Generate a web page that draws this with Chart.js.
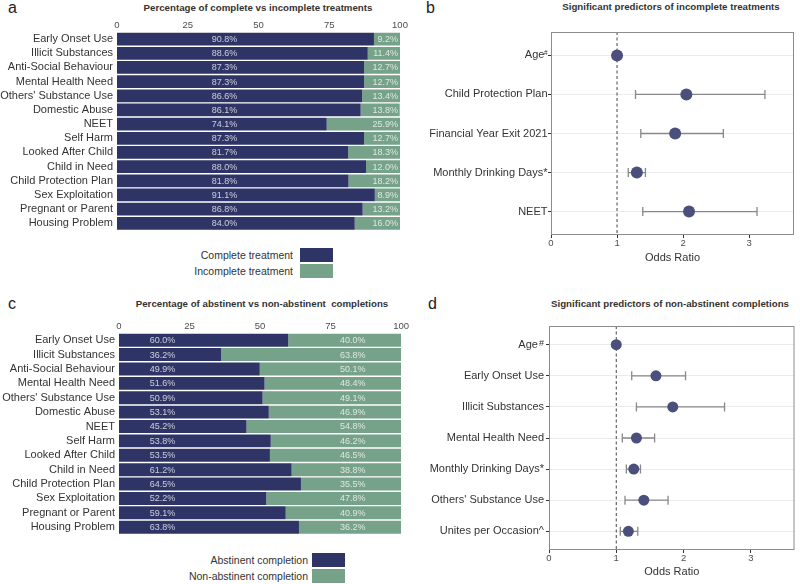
<!DOCTYPE html>
<html>
<head>
<meta charset="utf-8">
<script src="https://cdn.jsdelivr.net/npm/chart.js@4/dist/chart.umd.min.js"></script>
<style>
  body { margin: 0; background: #fff; font-family: "Liberation Sans", Arial, sans-serif; }
  #wrap { position: relative; width: 800px; height: 584px; overflow: hidden; }
  canvas { position: absolute; }
  .letter { position: absolute; font-size: 16px; line-height: 16px; color: #222; }
  .title { position: absolute; width: 300px; font-size: 9.7px; font-weight: bold; line-height: 10px; color: #333; text-align: center; white-space: nowrap; }
  .legend { position: absolute; display: flex; flex-direction: column; align-items: flex-end; gap: 2px; font-size: 10.5px; color: #333; }
  .legend .item { display: flex; align-items: center; height: 14px; }
  .legend .box { width: 33px; height: 14px; }
</style>
</head>
<body>
<div id="wrap">
  <div class="letter" style="left:8px; top:0px;">a</div>
  <div class="letter" style="left:426px; top:0px;">b</div>
  <div class="letter" style="left:8px; top:296px;">c</div>
  <div class="letter" style="left:428px; top:296px;">d</div>

  <div class="title" style="left:108px; top:3px;">Percentage of complete vs incomplete treatments</div>
  <div class="title" style="left:521px; top:2px;">Significant predictors of incomplete treatments</div>
  <div class="title" style="left:112px; top:299px;">Percentage of abstinent vs non-abstinent&nbsp; completions</div>
  <div class="title" style="left:520px; top:299px;">Significant predictors of non-abstinent completions</div>

  <canvas id="chartA" width="410" height="241" style="left:0; top:0;"></canvas>
  <canvas id="chartB" width="390" height="270" style="left:410px; top:0;"></canvas>
  <canvas id="chartC" width="410" height="255" style="left:0; top:290px;"></canvas>
  <canvas id="chartD" width="390" height="294" style="left:410px; top:290px;"></canvas>

  <div class="legend" id="legendA" style="left:0; top:248px; width:333px;"></div>
  <div class="legend" id="legendC" style="left:0; top:553px; width:345px;"></div>
</div>

<script>
const NAVY = "#2e3466";
const GREEN = "#77a28a";
const POINT = "#4b4f7b";
const FONT = '"Liberation Sans", Arial, sans-serif';

// panels a and c
const riskFactors = ["Early Onset Use", "Illicit Substances", "Anti-Social Behaviour", "Mental Health Need",
  "Others' Substance Use", "Domestic Abuse", "NEET", "Self Harm", "Looked After Child", "Child in Need",
  "Child Protection Plan", "Sex Exploitation", "Pregnant or Parent", "Housing Problem"];
const completePct = [90.8, 88.6, 87.3, 87.3, 86.6, 86.1, 74.1, 87.3, 81.7, 88.0, 81.8, 91.1, 86.8, 84.0];
const incompletePct = [9.2, 11.4, 12.7, 12.7, 13.4, 13.8, 25.9, 12.7, 18.3, 12.0, 18.2, 8.9, 13.2, 16.0];
const abstinentPct = [60.0, 36.2, 49.9, 51.6, 50.9, 53.1, 45.2, 53.8, 53.5, 61.2, 64.5, 52.2, 59.1, 63.8];
const nonAbstinentPct = [40.0, 63.8, 50.1, 48.4, 49.1, 46.9, 54.8, 46.2, 46.5, 38.8, 35.5, 47.8, 40.9, 36.2];
const pctTicks = [0, 25, 50, 75, 100];

// panel b
const incPredictors = ["Age#", "Child Protection Plan", "Financial Year Exit 2021", "Monthly Drinking Days*", "NEET"];
const incOR = [1.00, 2.05, 1.88, 1.30, 2.09];
const incLow = [1.00, 1.28, 1.36, 1.17, 1.39];
const incHigh = [1.00, 3.24, 2.61, 1.43, 3.12];

// panel d
const nonAbsPredictors = ["Age#", "Early Onset Use", "Illicit Substances", "Mental Health Need",
  "Monthly Drinking Days*", "Others' Substance Use", "Unites per Occasion^"];
const nonAbsOR = [1.00, 1.59, 1.84, 1.30, 1.26, 1.41, 1.18];
const nonAbsLow = [1.00, 1.23, 1.30, 1.09, 1.15, 1.13, 1.06];
const nonAbsHigh = [1.00, 2.03, 2.61, 1.57, 1.36, 1.77, 1.32];
const oddsTicks = [0, 1, 2, 3];
const noEffect = 1;

// percentage labels written inside the stacked bars
const barText = {
  id: "barText",
  afterDatasetsDraw(chart, args, opts) {
    const ctx = chart.ctx;
    const x = chart.scales.x;
    ctx.save();
    ctx.font = "9px " + FONT;
    ctx.fillStyle = "rgba(255,255,255,0.75)";
    ctx.textBaseline = "middle";
    chart.data.datasets.forEach((ds, di) => {
      const spot = opts.spots[di];
      ctx.textAlign = spot.align;
      chart.getDatasetMeta(di).data.forEach((bar, i) => {
        ctx.fillText(ds.data[i].toFixed(1) + "%", x.getPixelForValue(spot.at), bar.y + 0.5);
      });
    });
    ctx.restore();
  }
};

function stackedBar(id, first, second, names, spots, gap, pad, axisH, axisW) {
  new Chart(document.getElementById(id), {
    type: "bar",
    data: {
      labels: riskFactors,
      datasets: [
        { label: names[0], data: first, backgroundColor: NAVY, barPercentage: 0.9, categoryPercentage: 1 },
        { label: names[1], data: second, backgroundColor: GREEN, barPercentage: 0.9, categoryPercentage: 1 }
      ]
    },
    options: {
      indexAxis: "y",
      responsive: false,
      animation: false,
      layout: { padding: pad },
      plugins: {
        legend: { display: false },
        tooltip: { enabled: false },
        barText: { spots: spots }
      },
      scales: {
        x: {
          stacked: true, position: "top", min: 0, max: 100,
          grid: { display: false, drawTicks: false }, border: { display: false },
          afterBuildTicks: s => { s.ticks = pctTicks.map(v => ({ value: v })); },
          ticks: { font: { size: 9.5, family: FONT }, color: "#4d4d4d", padding: 1, maxRotation: 0 },
          afterFit: s => { s.height = axisH; }
        },
        y: {
          stacked: true,
          grid: { display: false, drawTicks: false }, border: { display: false },
          ticks: { font: { size: 11, family: FONT }, color: "#333", padding: 4, autoSkip: false },
          afterFit: s => { s.width = axisW; }
        }
      }
    },
    plugins: [barText]
  });
  const legend = document.getElementById(id === "chartA" ? "legendA" : "legendC");
  [[names[0], NAVY], [names[1], GREEN]].forEach(([txt, col]) => {
    const row = document.createElement("div");
    row.className = "item";
    row.innerHTML = '<span style="margin-right:' + gap + 'px">' + txt + '</span><span class="box" style="background:' + col + '"></span>';
    legend.appendChild(row);
  });
}

function forest(id, names, or, lo, hi, xMax, pad, axisH, axisW, sup) {
  const rows = names.map((_, i) => i);
  const frame = {
    id: "frame",
    beforeDatasetsDraw(chart) {
      const ctx = chart.ctx, x = chart.scales.x, y = chart.scales.y;
      const ds = chart.data.datasets[0];
      ctx.save();
      ctx.strokeStyle = "#888";
      ctx.lineWidth = 1.3;
      rows.forEach(i => {
        const x0 = x.getPixelForValue(ds.ciLow[i]);
        const x1 = x.getPixelForValue(ds.ciHigh[i]);
        const yy = y.getPixelForValue(i);
        if (x1 - x0 < 1) return;
        ctx.beginPath();
        ctx.moveTo(x0, yy); ctx.lineTo(x1, yy);
        ctx.moveTo(x0, yy - 4.5); ctx.lineTo(x0, yy + 4.5);
        ctx.moveTo(x1, yy - 4.5); ctx.lineTo(x1, yy + 4.5);
        ctx.stroke();
      });
      ctx.restore();
    },
    afterDraw(chart) {
      const ctx = chart.ctx, a = chart.chartArea, y = chart.scales.y;
      ctx.save();
      ctx.strokeStyle = "#8c8c8c";
      ctx.lineWidth = 1;
      ctx.strokeRect(a.left + 0.5, a.top + 0.5, a.right - a.left - 1, a.bottom - a.top - 1);
      // superscript marks on labels such as Age#
      const xr = y.right - y.options.grid.tickLength - y.options.ticks.padding;
      ctx.fillStyle = "#333";
      ctx.textAlign = "right";
      ctx.textBaseline = "middle";
      ctx.font = sup.size + "px " + FONT;
      names.forEach((n, i) => {
        if (n.endsWith("#")) ctx.fillText("#", xr, y.getPixelForValue(i) - sup.rise);
      });
      ctx.restore();
    }
  };
  new Chart(document.getElementById(id), {
    type: "scatter",
    data: {
      datasets: [
        {
          data: rows.map(i => ({ x: or[i], y: i })),
          ciLow: lo, ciHigh: hi,
          backgroundColor: POINT, borderWidth: 0, pointRadius: sup.r, order: 1
        },
        {
          type: "line",
          data: [{ x: noEffect, y: -0.6 }, { x: noEffect, y: names.length - 0.4 }],
          borderColor: "#444", borderWidth: 1, borderDash: [3, 2.5], pointRadius: 0, order: 2
        }
      ]
    },
    options: {
      responsive: false,
      animation: false,
      layout: { padding: pad },
      plugins: { legend: { display: false }, tooltip: { enabled: false } },
      scales: {
        x: {
          type: "linear", min: 0, max: xMax,
          afterBuildTicks: s => { s.ticks = oddsTicks.map(v => ({ value: v })); },
          grid: { drawOnChartArea: false, color: "#333", tickLength: 3 },
          border: { display: false },
          ticks: { font: { size: 9.5, family: FONT }, color: "#4d4d4d", padding: 0 },
          title: { display: true, text: "Odds Ratio", font: { size: 11, family: FONT }, color: "#333", padding: { top: 2, bottom: sup.titleBottom } },
          afterFit: s => { s.height = axisH; }
        },
        y: {
          type: "linear", reverse: true, min: -0.6, max: names.length - 0.4,
          afterBuildTicks: s => { s.ticks = rows.map(v => ({ value: v })); },
          grid: { color: "#ebebeb", tickColor: "#333", tickLength: 3 },
          border: { display: false },
          ticks: {
            font: { size: 11, family: FONT }, color: "#333", padding: sup.pad,
            callback: v => names[v].endsWith("#") ? names[v].slice(0, -1) + sup.space : names[v]
          },
          afterFit: s => { s.width = axisW; }
        }
      }
    },
    plugins: [frame]
  });
}

stackedBar("chartA", completePct, incompletePct, ["Complete treatment", "Incomplete treatment"],
  [{ at: 38, align: "center" }, { at: 99.3, align: "right" }], 7, { top: 12, right: 10, bottom: 0, left: 0 }, 20, 117);
stackedBar("chartC", abstinentPct, nonAbstinentPct, ["Abstinent completion", "Non-abstinent completion"],
  [{ at: 15.4, align: "center" }, { at: 82.9, align: "center" }], 4, { top: 22, right: 8, bottom: 0, left: 0 }, 21, 119);

forest("chartB", incPredictors, incOR, incLow, incHigh, 3.68, { top: 32, right: 2, bottom: 0, left: 0 }, 35, 141,
  { size: 6.5, rise: 2.5, space: " ", pad: 0.5, r: 6, titleBottom: 5 });
forest("chartD", nonAbsPredictors, nonAbsOR, nonAbsLow, nonAbsHigh, 3.65, { top: 36, right: 2, bottom: 0, left: 0 }, 34, 139,
  { size: 9, rise: 1.5, space: "  ", pad: 2, r: 5.5, titleBottom: 5 });
</script>
</body>
</html>
